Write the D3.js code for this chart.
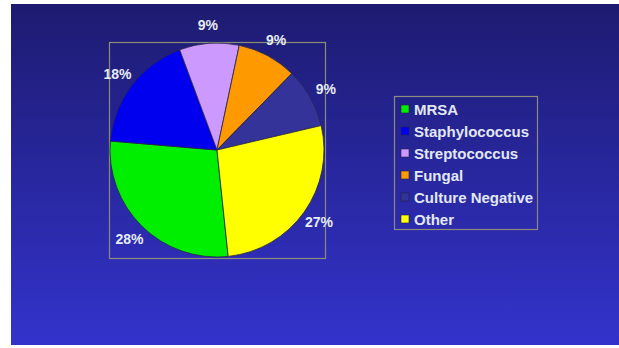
<!DOCTYPE html>
<html>
<head>
<meta charset="utf-8">
<script src="https://cdn.jsdelivr.net/npm/d3@7"></script>
<style>
  html, body { margin: 0; padding: 0; background: #ffffff; }
  svg { display: block; }
</style>
</head>
<body>
<svg id="chart" width="619" height="348"></svg>
<script>
// Infection source breakdown (percent of cases)
const categories = ["MRSA", "Staphylococcus", "Streptococcus", "Fungal", "Culture Negative", "Other"];
const values = [28, 18, 9, 9, 9, 27];
const colors = ["#00ee00", "#0000ee", "#cc99ff", "#ff9900", "#333399", "#ffff00"];

const W = 619, H = 348;
const svg = d3.select("#chart");

// slide background gradient
const defs = svg.append("defs");
const grad = defs.append("linearGradient")
  .attr("id", "bg").attr("x1", 0).attr("y1", 0).attr("x2", 0).attr("y2", 1);
grad.append("stop").attr("offset", "0%").attr("stop-color", "#1d1b70");
grad.append("stop").attr("offset", "100%").attr("stop-color", "#3333cc");
svg.append("rect").attr("x", 11).attr("y", 4).attr("width", W - 11).attr("height", 341)
  .attr("fill", "url(#bg)");

// plot area frame
const plot = { x: 109, y: 42, w: 216, h: 216 };
svg.append("rect")
  .attr("x", plot.x + 0.5).attr("y", plot.y + 0.5)
  .attr("width", plot.w).attr("height", plot.h)
  .attr("fill", "none").attr("stroke", "#8c8a78").attr("stroke-width", 1.2);

const cx = 217, cy = 150, r = 107;
const color = d3.scaleOrdinal().domain(categories).range(colors);

const startDeg = 174;
const pie = d3.pie().sort(null).value(d => d.value)
  .startAngle(startDeg * Math.PI / 180)
  .endAngle((startDeg + 360) * Math.PI / 180);
const data = categories.map((c, i) => ({ name: c, value: values[i] }));
const arcs = pie(data);

const arc = d3.arc().innerRadius(0).outerRadius(r);
const labelArc = d3.arc().innerRadius(125).outerRadius(125);

const g = svg.append("g").attr("transform", `translate(${cx},${cy})`);
g.selectAll("path.slice").data(arcs).join("path")
  .attr("class", "slice")
  .attr("d", arc)
  .attr("fill", d => color(d.data.name))
  .attr("stroke", "#26264a").attr("stroke-width", 0.8);

const total = d3.sum(values);
g.selectAll("text.pct").data(arcs).join("text")
  .attr("class", "pct")
  .attr("transform", d => `translate(${labelArc.centroid(d)})`)
  .attr("text-anchor", "middle")
  .attr("dominant-baseline", "central")
  .attr("font-family", "'Liberation Sans', Arial, sans-serif")
  .attr("font-weight", "bold")
  .attr("font-size", 14)
  .attr("fill", "#e6ecf4")
  .text(d => Math.round(d.data.value / total * 100) + "%");

// legend
const lg = { x: 394, y: 96, w: 143, h: 133 };
svg.append("rect")
  .attr("x", lg.x + 0.5).attr("y", lg.y + 0.5).attr("width", lg.w).attr("height", lg.h)
  .attr("fill", "none").attr("stroke", "#8c8a78").attr("stroke-width", 1.2);

const rowY = d3.scalePoint().domain(categories).range([lg.y + 13, lg.y + 123]);
const items = svg.selectAll("g.item").data(categories).join("g")
  .attr("class", "item")
  .attr("transform", d => `translate(${lg.x}, ${rowY(d)})`);
items.append("rect")
  .attr("x", 7).attr("y", -4).attr("width", 8).attr("height", 8)
  .attr("fill", d => color(d)).attr("stroke", "#222244").attr("stroke-width", 0.6);
items.append("text")
  .attr("x", 20).attr("y", 0)
  .attr("dominant-baseline", "central")
  .attr("font-family", "'Liberation Sans', Arial, sans-serif")
  .attr("font-weight", "bold")
  .attr("font-size", 15)
  .attr("fill", "#e2e8f2")
  .text(d => d);
</script>
</body>
</html>
